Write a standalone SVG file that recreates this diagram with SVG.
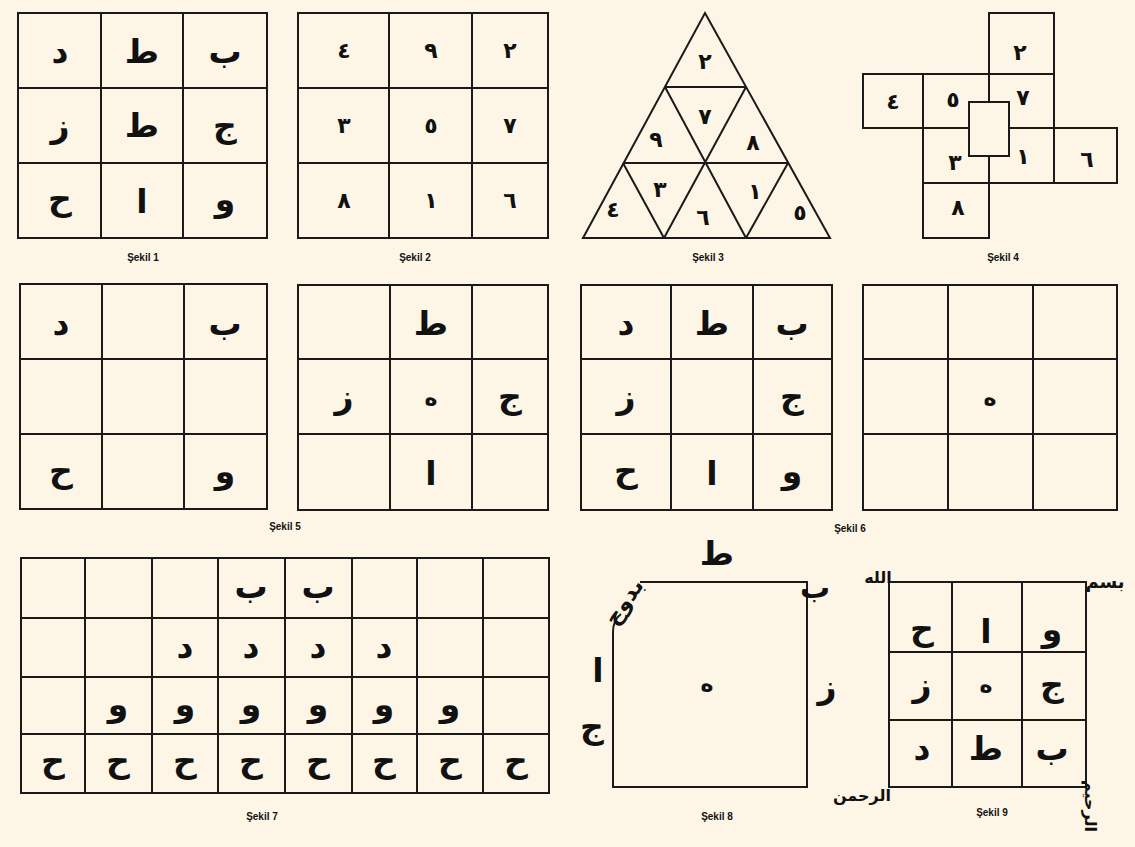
<svg xmlns="http://www.w3.org/2000/svg" width="1135" height="847" viewBox="0 0 1135 847">
<style>
.bg{fill:#fdf6e6}
.ln{fill:none;stroke:#1a1a1a;stroke-width:2}
.cell{fill:#fdf6e6;stroke:#1a1a1a;stroke-width:2}
.ar{font-family:"DejaVu Sans",sans-serif;font-size:33px;font-weight:bold;text-anchor:middle;fill:#111}
.he{font-size:22px}
.sm{font-family:"DejaVu Sans",sans-serif;font-size:16px;font-weight:bold;text-anchor:middle;fill:#111}
.num{font-family:"DejaVu Sans",sans-serif;font-size:22px;font-weight:bold;text-anchor:middle;fill:#111}
.cap{font-family:"Liberation Sans",Arial,sans-serif;font-size:10px;font-weight:bold;text-anchor:middle;fill:#111}
</style>
<rect class="bg" x="0" y="0" width="1135" height="847"/>

<g id="sekil1">
<rect class="ln" x="18" y="13" width="249" height="225"/>
<path class="ln" d="M101 13V238M183 13V238M18 88H267M18 163H267"/>
<text class="ar" x="60" y="63">د</text>
<text class="ar" x="142" y="63">ط</text>
<text class="ar" x="225" y="63">ب</text>
<text class="ar" x="60" y="137">ز</text>
<text class="ar" x="142" y="137">ط</text>
<text class="ar" x="225" y="137">ج</text>
<text class="ar" x="60" y="210">ح</text>
<text class="ar" x="142" y="213">ا</text>
<text class="ar" x="225" y="211">و</text>
<text class="cap" x="143" y="261">Şekil 1</text>
</g>

<g id="sekil2">
<rect class="ln" x="298" y="13" width="250" height="225"/>
<path class="ln" d="M389 13V238M472 13V238M298 88H548M298 163H548"/>
<text class="num" x="344" y="58">٤</text>
<text class="num" x="431" y="58">٩</text>
<text class="num" x="510" y="58">٢</text>
<text class="num" x="344" y="133">٣</text>
<text class="num" x="431" y="133">٥</text>
<text class="num" x="510" y="133">٧</text>
<text class="num" x="344" y="208">٨</text>
<text class="num" x="431" y="208">١</text>
<text class="num" x="510" y="208">٦</text>
<text class="cap" x="415" y="261">Şekil 2</text>
</g>

<g id="sekil3">
<path class="ln" d="M705 13L830 238H583Z"/>
<path class="ln" d="M665 87H746M623 163H788M665 87L746 238M746 87L664 238M623 163L664 238M788 163L746 238"/>
<text class="num" x="705" y="69">٢</text>
<text class="num" x="705" y="124">٧</text>
<text class="num" x="656" y="147">٩</text>
<text class="num" x="753" y="150">٨</text>
<text class="num" x="613" y="217">٤</text>
<text class="num" x="660" y="197">٣</text>
<text class="num" x="703" y="225">٦</text>
<text class="num" x="755" y="199">١</text>
<text class="num" x="800" y="220">٥</text>
<text class="cap" x="708" y="261">Şekil 3</text>
</g>

<g id="sekil4">
<rect class="ln" x="989" y="13" width="65" height="61"/>
<rect class="ln" x="863" y="74" width="60" height="54"/>
<rect class="ln" x="923" y="74" width="66" height="54"/>
<rect class="ln" x="989" y="74" width="65" height="54"/>
<rect class="ln" x="923" y="128" width="66" height="55"/>
<rect class="ln" x="989" y="128" width="65" height="55"/>
<rect class="ln" x="1054" y="128" width="63" height="55"/>
<rect class="ln" x="923" y="183" width="66" height="55"/>
<rect class="cell" x="969" y="102" width="40" height="54"/>
<text class="num" x="1020" y="60">٢</text>
<text class="num" x="893" y="109">٤</text>
<text class="num" x="953" y="107">٥</text>
<text class="num" x="1023" y="105">٧</text>
<text class="num" x="955" y="170">٣</text>
<text class="num" x="1023" y="164">١</text>
<text class="num" x="1087" y="167">٦</text>
<text class="num" x="958" y="215">٨</text>
<text class="cap" x="1003" y="261">Şekil 4</text>
</g>

<g id="sekil5">
<rect class="ln" x="20" y="284" width="247" height="225"/>
<path class="ln" d="M102 284V509M184 284V509M20 359H267M20 434H267"/>
<text class="ar" x="61" y="335">د</text>
<text class="ar" x="225" y="335">ب</text>
<text class="ar" x="61" y="482">ح</text>
<text class="ar" x="225" y="483">و</text>
<rect class="ln" x="298" y="285" width="250" height="225"/>
<path class="ln" d="M390 285V510M472 285V510M298 359H548M298 434H548"/>
<text class="ar" x="431" y="335">ط</text>
<text class="ar" x="344" y="408">ز</text>
<text class="ar he" x="431" y="405">ه</text>
<text class="ar" x="510" y="408">ج</text>
<text class="ar" x="431" y="485">ا</text>
<text class="cap" x="285" y="530">Şekil 5</text>
</g>

<g id="sekil6">
<rect class="ln" x="581" y="285" width="251" height="225"/>
<path class="ln" d="M671 285V510M753 285V510M581 359H832M581 434H832"/>
<text class="ar" x="626" y="335">د</text>
<text class="ar" x="712" y="335">ط</text>
<text class="ar" x="792" y="335">ب</text>
<text class="ar" x="626" y="408">ز</text>
<text class="ar" x="792" y="408">ج</text>
<text class="ar" x="626" y="482">ح</text>
<text class="ar" x="712" y="485">ا</text>
<text class="ar" x="792" y="483">و</text>
<rect class="ln" x="863" y="285" width="254" height="225"/>
<path class="ln" d="M948 285V510M1033 285V510M863 359H1117M863 434H1117"/>
<text class="ar he" x="990" y="405">ه</text>
<text class="cap" x="850" y="532">Şekil 6</text>
</g>

<g id="sekil7">
<rect class="ln" x="21" y="558" width="528" height="235"/>
<path class="ln" d="M85 558V793M152 558V793M218 558V793M285 558V793M352 558V793M417 558V793M483 558V793M21 618H549M21 677H549M21 734H549"/>
<text class="ar" x="251" y="598">ب</text>
<text class="ar" x="318" y="598">ب</text>
<text class="ar" x="185" y="658">د</text>
<text class="ar" x="251" y="658">د</text>
<text class="ar" x="318" y="658">د</text>
<text class="ar" x="384" y="658">د</text>
<text class="ar" x="118" y="716">و</text>
<text class="ar" x="185" y="716">و</text>
<text class="ar" x="251" y="716">و</text>
<text class="ar" x="318" y="716">و</text>
<text class="ar" x="384" y="716">و</text>
<text class="ar" x="450" y="716">و</text>
<text class="ar" x="53" y="772">ح</text>
<text class="ar" x="118" y="772">ح</text>
<text class="ar" x="185" y="772">ح</text>
<text class="ar" x="251" y="772">ح</text>
<text class="ar" x="318" y="772">ح</text>
<text class="ar" x="384" y="772">ح</text>
<text class="ar" x="450" y="772">ح</text>
<text class="ar" x="516" y="772">ح</text>
<text class="cap" x="262" y="820">Şekil 7</text>
</g>

<g id="sekil8">
<path class="ln" d="M640 582H807V787H613V632Q613 620 621 614"/>
<text class="sm" x="0" y="0" transform="translate(630 606) rotate(-55)" style="font-size:22px">بدوح</text>
<text class="ar" x="717" y="565">ط</text>
<text class="ar" x="815" y="598" style="font-size:30px">ب</text>
<text class="ar" x="827" y="698">ز</text>
<text class="ar" x="598" y="682">ا</text>
<text class="ar" x="592" y="738">ج</text>
<text class="ar he" x="707" y="691">ه</text>
<text class="cap" x="717" y="820">Şekil 8</text>
</g>

<g id="sekil9">
<rect class="ln" x="889" y="582" width="197" height="205"/>
<path class="ln" d="M952 582V787M1022 582V787M889 652H1086M889 720H1086"/>
<text class="ar" x="922" y="640">ح</text>
<text class="ar" x="986" y="643">ا</text>
<text class="ar" x="1052" y="641">و</text>
<text class="ar" x="922" y="696">ز</text>
<text class="ar he" x="986" y="692">ه</text>
<text class="ar" x="1052" y="696">ج</text>
<text class="ar" x="922" y="760">د</text>
<text class="ar" x="986" y="760">ط</text>
<text class="ar" x="1052" y="760">ب</text>
<text class="sm" x="1105" y="588" style="font-size:18px">بسم</text>
<text class="sm" x="878" y="583">الله</text>
<text class="sm" x="862" y="801">الرحمن</text>
<text class="sm" x="0" y="0" transform="translate(1085 806) rotate(90)">الرحيم</text>
<text class="cap" x="992" y="816">Şekil 9</text>
</g>
</svg>
